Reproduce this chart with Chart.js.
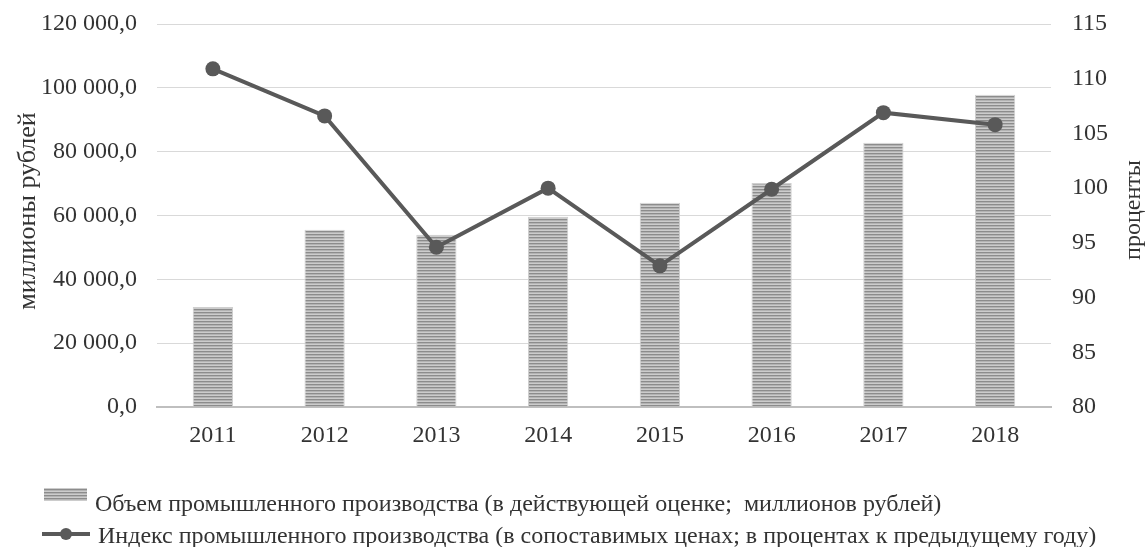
<!DOCTYPE html>
<html>
<head>
<meta charset="utf-8">
<script src="https://cdn.jsdelivr.net/npm/chart.js@4.4.1/dist/chart.umd.min.js"></script>
<style>
html,body{margin:0;padding:0;background:#fff;}
#wrap{width:1148px;height:547px;position:relative;}
</style>
</head>
<body>
<div id="wrap"><canvas id="c" width="1148" height="547"></canvas></div>
<script>
const categories = ['2011','2012','2013','2014','2015','2016','2017','2018'];
const volumeValues = [31300, 55500, 54000, 59600, 64000, 70200, 82800, 97800];
const indexValues = [110.9, 106.6, 94.6, 100.0, 92.9, 99.9, 106.9, 105.8];
const volumeTicks = [0, 20000, 40000, 60000, 80000, 100000, 120000];
const indexTicks = [80, 85, 90, 95, 100, 105, 110, 115];
const volumeLabel = 'Объем промышленного производства (в действующей оценке;  миллионов рублей)';
const indexLabel = 'Индекс промышленного производства (в сопоставимых ценах; в процентах к предыдущему году)';
const leftTitle = 'миллионы рублей';
const rightTitle = 'проценты';

const FONT = '"Liberation Serif", "Times New Roman", serif';
const TEXT = '#333333';

function makePattern() {
  const p = document.createElement('canvas');
  p.width = 4; p.height = 3;
  const g = p.getContext('2d');
  g.fillStyle = '#cccccc'; g.fillRect(0,0,4,3);
  g.fillStyle = '#8c8c8c'; g.fillRect(0,0,4,1);
  g.fillStyle = '#b3b3b3'; g.fillRect(0,1,4,1);
  return document.getElementById('c').getContext('2d').createPattern(p, 'repeat');
}
const barPattern = makePattern();

function fmtRu(v) {
  const s = Math.round(v).toString().replace(/\B(?=(\d{3})+(?!\d))/g, ' ');
  return s + ',0';
}

const decorPlugin = {
  id: 'decor',
  afterDraw(chart) {
    const ctx = chart.ctx;
    ctx.save();
    ctx.fillStyle = TEXT;
    ctx.textAlign = 'center';
    ctx.textBaseline = 'middle';
    ctx.font = '26px ' + FONT;
    ctx.save(); ctx.translate(28, 211); ctx.rotate(-Math.PI/2); ctx.fillText(leftTitle, 0, 0); ctx.restore();
    ctx.font = '24px ' + FONT;
    ctx.save(); ctx.translate(1134, 210); ctx.rotate(-Math.PI/2); ctx.fillText(rightTitle, 0, 0); ctx.restore();
    // legend
    ctx.textAlign = 'left';
    ctx.textBaseline = 'alphabetic';
    ctx.font = '24px ' + FONT;
    ctx.fillStyle = barPattern;
    ctx.fillRect(44, 488, 43, 13);
    ctx.fillStyle = TEXT;
    ctx.fillText(volumeLabel, 95, 511);
    ctx.strokeStyle = '#595959';
    ctx.lineWidth = 4;
    ctx.beginPath(); ctx.moveTo(42, 534); ctx.lineTo(90, 534); ctx.stroke();
    ctx.fillStyle = '#595959';
    ctx.beginPath(); ctx.arc(66, 534, 6, 0, Math.PI*2); ctx.fill();
    ctx.fillStyle = TEXT;
    ctx.fillText(indexLabel, 98, 543);
    ctx.restore();
  }
};

function fixVertical(s, w) {
  s.width = w;
  s.paddingTop = 0;
  s.paddingBottom = 0;
}

new Chart(document.getElementById('c'), {
  data: {
    labels: categories,
    datasets: [
      {
        type: 'line',
        label: indexLabel,
        data: indexValues,
        yAxisID: 'y2',
        borderColor: '#595959',
        backgroundColor: '#595959',
        borderWidth: 4,
        pointRadius: 7.5,
        pointHoverRadius: 7.5,
        pointBackgroundColor: '#595959',
        pointBorderWidth: 0,
        tension: 0,
        order: 0
      },
      {
        type: 'bar',
        label: volumeLabel,
        data: volumeValues,
        yAxisID: 'y',
        backgroundColor: barPattern,
        borderColor: '#cfcfcf',
        borderWidth: 1,
        barPercentage: 0.36,
        categoryPercentage: 1,
        order: 1
      }
    ]
  },
  options: {
    responsive: false,
    animation: false,
    events: [],
    layout: { padding: { top: 24, left: 0, right: 0, bottom: 0 } },
    plugins: { legend: { display: false }, tooltip: { enabled: false } },
    scales: {
      x: {
        grid: { display: false, drawTicks: false },
        border: { color: '#bfbfbf', width: 2 },
        ticks: { color: TEXT, font: { family: FONT, size: 24 }, padding: 14, maxRotation: 0 },
        afterFit(s) { s.height = 140; s.paddingLeft = 0; s.paddingRight = 0; }
      },
      y: {
        position: 'left',
        min: 0, max: 120000,
        afterBuildTicks(s) { s.ticks = volumeTicks.map(v => ({ value: v })); },
        grid: { color: '#d9d9d9', lineWidth: 1, drawTicks: false },
        border: { display: false },
        ticks: { color: TEXT, font: { family: FONT, size: 24 }, padding: 20, callback: v => fmtRu(v) },
        afterFit(s) { fixVertical(s, 157); }
      },
      y2: {
        position: 'right',
        min: 80, max: 115,
        afterBuildTicks(s) { s.ticks = indexTicks.map(v => ({ value: v })); },
        grid: { display: false, drawTicks: false },
        border: { display: false },
        ticks: { color: TEXT, font: { family: FONT, size: 24 }, padding: 21 },
        afterFit(s) { fixVertical(s, 97); }
      }
    }
  },
  plugins: [decorPlugin]
});
</script>
</body>
</html>
